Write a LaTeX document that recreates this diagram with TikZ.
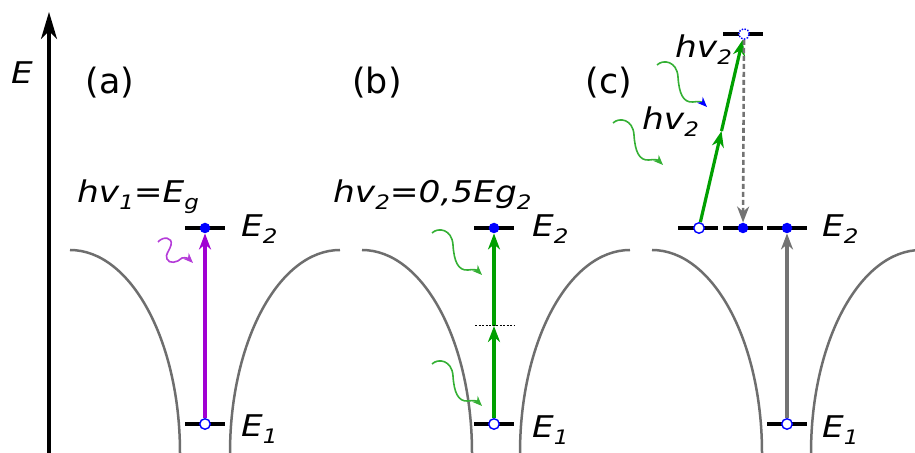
\documentclass[tikz,border=0pt]{standalone}
\usepackage{fontspec}
\setmainfont{DejaVu Sans}
\newfontfamily\lblfont{DejaVu Sans}[FakeStretch=1.15]
\usetikzlibrary{arrows.meta,calc,backgrounds}
\definecolor{curvegray}{HTML}{6E6E6E}
\definecolor{arrgray}{HTML}{737373}
\definecolor{violetA}{HTML}{A000D2}
\definecolor{violetB}{HTML}{B43CD8}
\definecolor{greenA}{HTML}{00A000}
\definecolor{greenB}{HTML}{35B035}
\definecolor{blueA}{HTML}{0000FF}
\newcommand\lsub[1]{\raisebox{-7bp}{\fontsize{20}{20}\selectfont #1}}
\begin{document}
\begin{tikzpicture}[x=1bp,y=-1bp,
  band/.style={draw=curvegray, line width=2.5bp},
  level/.style={draw=black, line width=3.2bp},
  fdot/.style={circle, fill=blueA, minimum size=10.5bp, inner sep=0},
  odot/.style={circle, draw=blueA, fill=white, line width=1.4bp, minimum size=10.5bp, inner sep=0},
  ddot/.style={odot, dash pattern=on 1.5bp off 1.5bp},
  tr/.style={line width=3.2bp, -{Stealth[length=16bp,width=12bp,inset=5bp]}},
  wave/.style={line width=1.6bp, -{Stealth[length=10bp,width=8bp,inset=3bp]}},
  lbl/.style={inner sep=0, anchor=base west, font=\lblfont\fontsize{30}{36}\selectfont\itshape},
  pl/.style={inner sep=0, font=\fontsize{35}{42}\selectfont},
  wshape/.pic={\draw[pic actions] (0,0) .. controls (6,-6) and (20,-4) .. (21,12) .. controls (22,28) and (26,38) .. (36,37) .. controls (42,36) and (45,37) .. (50,42);},
]
\useasboundingbox (0,0) rectangle (915,453);
\clip (0,0) rectangle (915,453);

% energy axis
\coordinate (axb) at (49,453);
\coordinate (axt) at (49,12);
\draw[line width=3.2bp, -{Stealth[length=27bp,width=16bp,inset=8bp]}] (axb) -- (axt);
\node[lbl] (Elab) at (11,84) {E};

% bands
\draw[band] (70,250) arc[start angle=90, end angle=0, x radius=110bp, y radius=203bp];
\draw[band] (230,453) arc[start angle=180, end angle=90, x radius=110bp, y radius=203bp];
\draw[band] (362,250) arc[start angle=90, end angle=0, x radius=110bp, y radius=203bp];
\draw[band] (520,453) arc[start angle=180, end angle=90, x radius=110bp, y radius=203bp];
\draw[band] (652,250) arc[start angle=90, end angle=0, x radius=110bp, y radius=203bp];
\draw[band] (811,453) arc[start angle=180, end angle=90, x radius=110bp, y radius=203bp];

% panel labels
\node[pl] (pa) at (110,83) {(a)};
\node[pl] (pb) at (377,83) {(b)};
\node[pl] (pc) at (609,83) {(c)};

% ---------- panel (a)
\draw[level] (185,228) -- (225,228);
\draw[level] (185,424) -- (225,424);
\node[fdot] (a2) at (205,228) {};
\node[odot] (a1) at (205,424) {};
\begin{scope}[on background layer]
\draw[tr, violetA] (a1) -- (a2);
\end{scope}
\draw[violetB, wave]
  (158,242) .. controls (163,236) and (173,237) .. (171,245)
  .. controls (169,252) and (165,254) .. (167,259)
  .. controls (169,264) and (177,263) .. (182,258)
  .. controls (186,257) and (189,259) .. (193,263);
\node[lbl] (ta) at (77,203) {hv\lsub{1}=E\lsub{g}};
\node[lbl] (a2l) at (241,237) {E\lsub{2}};
\node[lbl] (a1l) at (241,436) {E\lsub{1}};

% ---------- panel (b)
\draw[level] (474,228) -- (514,228);
\draw[level] (474,424) -- (514,424);
\draw[black, line width=0.8bp, dash pattern=on 2bp off 1.5bp] (475,325) -- (515,325);
\coordinate (b0) at (494,326);
\node[fdot] (b2) at (494,228) {};
\node[odot] (b1) at (494,424) {};
\begin{scope}[on background layer]
\draw[tr, greenA] (b1) -- (b0);
\draw[tr, greenA] (b0) -- (b2);
\end{scope}
\pic[greenB, wave] at (432,233) {wshape};
\pic[greenB, wave] at (432,364) {wshape};
\node[lbl] (tb) at (333,203) {hv\lsub{2}=0,5Eg\lsub{2}};
\node[lbl] (b2l) at (532,237) {E\lsub{2}};
\node[lbl] (b1l) at (532,437) {E\lsub{1}};

% ---------- panel (c)
\draw[level] (678,228) -- (718,228);
\draw[level] (723,228) -- (763,228);
\draw[level] (767,228) -- (807,228);
\draw[level] (723,34) -- (763,34);
\draw[level] (767,424) -- (807,424);
\node[odot] (c1) at (699,228) {};
\node[fdot] (c2) at (743,228) {};
\node[fdot] (c4) at (787,228) {};
\node[odot] (c3) at (787,424) {};
\node[ddot] (ct) at (744,34) {};
\coordinate (cm) at ($(c1)!0.5!(ct)$);
\begin{scope}[on background layer]
\draw[tr, greenA] (c1) -- (cm);
\draw[tr, greenA] (cm) -- (ct);
\draw[tr, arrgray, line width=2.6bp, dash pattern=on 5bp off 3bp] (ct) -- (c2);
\draw[tr, arrgray] (c3) -- (c4);
\end{scope}
\pic[greenB, line width=1.6bp, -{Stealth[length=10bp,width=8bp,inset=3bp,color=blueA]}] at (657,65) {wshape};
\pic[greenB, wave] at (613,123) {wshape};
\node[lbl] (tc1) at (675,58) {hv\lsub{2}};
\node[lbl] (tc2) at (642,130) {hv\lsub{2}};
\node[lbl] (c2l) at (822,237) {E\lsub{2}};
\node[lbl] (c1l) at (822,437) {E\lsub{1}};
\end{tikzpicture}
\end{document}
